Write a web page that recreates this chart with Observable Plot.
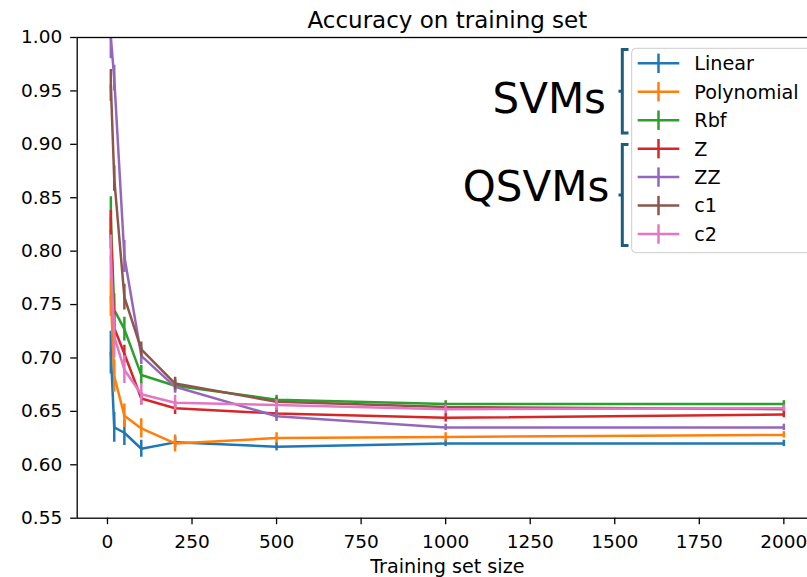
<!DOCTYPE html>
<html>
<head>
<meta charset="utf-8">
<script src="https://cdn.jsdelivr.net/npm/d3@7"></script>
<script src="https://cdn.jsdelivr.net/npm/@observablehq/plot@0.6"></script>
<style>
  html, body { margin: 0; padding: 0; overflow: hidden; background: white; }
  #chart svg { display: block; max-width: none !important; }
</style>
</head>
<body>
<div id="chart"></div>
<script>
// ---- data ----
const sizes = [10, 20, 50, 100, 200, 500, 1000, 2000];
const seriesNames = ["Linear", "Polynomial", "Rbf", "Z", "ZZ", "c1", "c2"];
const seriesColors = ["#1f77b4", "#ff7f0e", "#2ca02c", "#d62728", "#9467bd", "#8c564b", "#e377c2"];

const linear     = [0.705, 0.635, 0.630, 0.615, 0.621, 0.617, 0.620, 0.620];
const linearErr  = [0.020, 0.014, 0.012, 0.008, 0.005, 0.004, 0.003, 0.003];
const poly       = [0.757, 0.683, 0.646, 0.634, 0.620, 0.625, 0.626, 0.628];
const polyErr    = [0.018, 0.015, 0.011, 0.009, 0.008, 0.005, 0.004, 0.003];
const rbf        = [0.831, 0.745, 0.727, 0.684, 0.674, 0.661, 0.657, 0.657];
const rbfErr     = [0.020, 0.015, 0.011, 0.009, 0.006, 0.004, 0.003, 0.003];
const zMap       = [0.820, 0.728, 0.704, 0.662, 0.653, 0.648, 0.644, 0.647];
const zMapErr    = [0.018, 0.015, 0.008, 0.006, 0.006, 0.005, 0.004, 0.003];
const zzMap      = [1.000, 0.962, 0.795, 0.702, 0.673, 0.6455, 0.635, 0.635];
const zzMapErr   = [0.020, 0.012, 0.015, 0.008, 0.006, 0.005, 0.003, 0.003];
const c1         = [0.955, 0.868, 0.757, 0.708, 0.676, 0.659, 0.654, 0.652];
const c1Err      = [0.015, 0.012, 0.012, 0.007, 0.006, 0.004, 0.003, 0.003];
const c2         = [0.795, 0.720, 0.689, 0.666, 0.658, 0.656, 0.652, 0.653];
const c2Err      = [0.020, 0.020, 0.013, 0.010, 0.007, 0.005, 0.004, 0.003];

const xTicks = [0, 250, 500, 750, 1000, 1250, 1500, 1750, 2000];
const yTicks = [0.55, 0.60, 0.65, 0.70, 0.75, 0.80, 0.85, 0.90, 0.95, 1.00];

const titleText = "Accuracy on training set";
const xLabel = "Training set size";
const groupLabels = ["SVMs", "QSVMs"];

// ---- table built from the arrays ----
const allVals = [linear, poly, rbf, zMap, zzMap, c1, c2];
const allErrs = [linearErr, polyErr, rbfErr, zMapErr, zzMapErr, c1Err, c2Err];
const seriesRows = seriesNames.map((name, i) =>
  sizes.map((s, j) => ({series: name, x: s, y: allVals[i][j], lo: allVals[i][j] - allErrs[i][j], hi: allVals[i][j] + allErrs[i][j]}))
);

const font = "DejaVu Sans";
const seriesMarks = [];
seriesRows.forEach((rows, i) => {
  seriesMarks.push(Plot.ruleX(rows, {x: "x", y1: "lo", y2: "hi", stroke: seriesColors[i], strokeWidth: 2.5, clip: true}));
  seriesMarks.push(Plot.line(rows, {x: "x", y: "y", stroke: seriesColors[i], strokeWidth: 2.5, clip: true, strokeLinejoin: "round"}));
});

const chart = Plot.plot({
  width: 818,
  height: 577,
  marginLeft: 76.7,
  marginRight: 1,
  marginTop: 37,
  marginBottom: 59.3,
  style: {fontFamily: font, fontSize: "18.5px", background: "white", color: "black", maxWidth: "none"},
  x: {domain: [-89.5, 2099.5]},
  y: {domain: [0.55, 1.0]},
  marks: [
    ...seriesMarks,
    Plot.frame({stroke: "black", strokeWidth: 1.3}),
    Plot.axisX({ticks: xTicks, tickSize: 6.5, tickPadding: 10, strokeWidth: 1.3, label: null, fontSize: 18.5, tickFormat: d => String(d)}),
    Plot.axisY({ticks: yTicks, tickSize: 6.5, tickPadding: 8.5, strokeWidth: 1.3, label: null, fontSize: 18.5, tickFormat: d3.format(".2f")}),
    Plot.text([titleText], {frameAnchor: "top", lineAnchor: "bottom", dy: -10, fontSize: 23, fill: "black"}),
    Plot.text([xLabel], {frameAnchor: "bottom", lineAnchor: "bottom", dy: 54.5, fontSize: 19.2, fill: "black"})
  ]
});
document.getElementById("chart").appendChild(chart);

// ---- legend & bracket annotations ----
const svg = d3.select(chart);
const g = svg.append("g").attr("font-family", font).attr("text-anchor", "start");
g.append("rect")
  .attr("x", 631.7).attr("y", 48.3).attr("width", 200).attr("height", 204.4)
  .attr("rx", 4).attr("fill", "white").attr("fill-opacity", 0.8)
  .attr("stroke", "#cccccc").attr("stroke-width", 1);
seriesNames.forEach((name, i) => {
  const cy = 63.3 + i * 28.45;
  g.append("line").attr("x1", 637.7).attr("x2", 679.3).attr("y1", cy).attr("y2", cy)
    .attr("stroke", seriesColors[i]).attr("stroke-width", 2.5);
  g.append("line").attr("x1", 658.5).attr("x2", 658.5).attr("y1", cy - 9.7).attr("y2", cy + 9.7)
    .attr("stroke", seriesColors[i]).attr("stroke-width", 2.5);
  g.append("text").attr("x", 694.3).attr("y", cy).attr("dy", "0.36em")
    .attr("text-anchor", "start")
    .attr("font-size", 19.2).attr("fill", "black").text(name);
});

const bracketColor = "#1d5c7c";
const brackets = [[49.5, 133], [144.5, 245.5]];
brackets.forEach(([y0, y1]) => {
  g.append("path")
    .attr("d", `M628.5,${y0}H622.3V${y1}H628.5M622.3,${(y0 + y1) / 2}H618.5`)
    .attr("fill", "none").attr("stroke", bracketColor).attr("stroke-width", 3);
});
g.append("text").attr("x", 606).attr("y", 113).attr("text-anchor", "end")
  .attr("font-size", 42).attr("fill", "black").text(groupLabels[0]);
g.append("text").attr("x", 609.3).attr("y", 200.5).attr("text-anchor", "end")
  .attr("font-size", 42).attr("fill", "black").text(groupLabels[1]);
</script>
</body>
</html>
